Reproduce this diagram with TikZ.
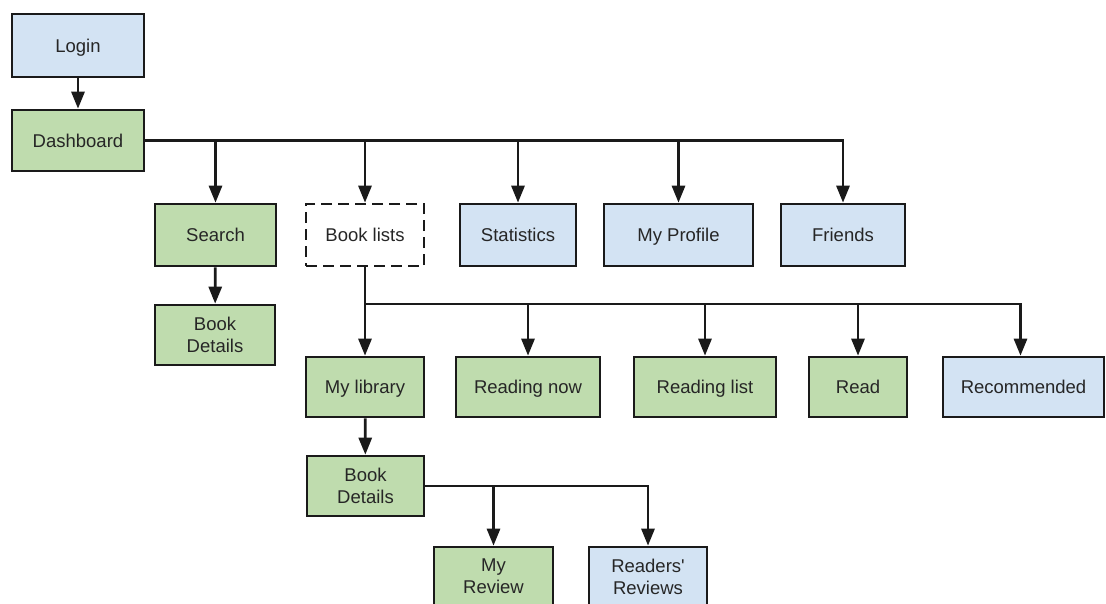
\documentclass[tikz,border=0pt]{standalone}
\usepackage{fontspec}
\setmainfont{Liberation Sans}
\usetikzlibrary{arrows.meta}
\definecolor{fillblue}{HTML}{D3E3F3}
\definecolor{fillgreen}{HTML}{BFDCAE}
\definecolor{linec}{HTML}{1A1A1A}
\definecolor{textc}{HTML}{262626}
\begin{document}
\begin{tikzpicture}[x=1pt,y=-1pt,
  box/.style={draw=linec, line width=2.6pt, align=center, inner sep=0pt,
    text=textc, font=\fontsize{18.5}{22}\selectfont},
  oneline/.style={text height=13.5pt, text depth=0.5pt},
  bluebox/.style={box, fill=fillblue},
  greenbox/.style={box, fill=fillgreen},
  groupbox/.style={box, fill=white, dash pattern=on 11pt off 6pt},
  link/.style={draw=linec, line width=2.8pt},
  arrow/.style={link, -{Triangle[length=17pt 0 0,width=13pt 0 0]}}]
\useasboundingbox (0,0) rectangle (1106,603);
\clip (0,0) rectangle (1106,603);

% top level
\node[bluebox,  oneline, minimum width=132pt, minimum height=63pt] (login) at (78,45.5) {Login};
\node[greenbox, oneline, minimum width=132pt, minimum height=61pt] (dash) at (78,140.5) {Dashboard};

% second level
\node[greenbox, oneline, minimum width=121pt, minimum height=62pt] (search)  at (215.5,235) {Search};
\node[groupbox, oneline, minimum width=118pt, minimum height=62pt] (blists)  at (365,235)   {Book lists};
\node[bluebox,  oneline, minimum width=116pt, minimum height=62pt] (stats)   at (518,235)   {Statistics};
\node[bluebox,  oneline, minimum width=149pt, minimum height=62pt] (profile) at (678.5,235) {My Profile};
\node[bluebox,  oneline, minimum width=124pt, minimum height=62pt] (friends) at (843,235)   {Friends};

% search branch
\node[greenbox, minimum width=120pt, minimum height=60pt] (bdone) at (215,335) {Book\\Details};

% book lists
\node[greenbox, oneline, minimum width=118pt, minimum height=60pt] (mylib) at (365,387)    {My library};
\node[greenbox, oneline, minimum width=144pt, minimum height=60pt] (rnow)  at (528,387)    {Reading now};
\node[greenbox, oneline, minimum width=142pt, minimum height=60pt] (rlist) at (705,387)    {Reading list};
\node[greenbox, oneline, minimum width=98pt,  minimum height=60pt] (read)  at (858,387)    {Read};
\node[bluebox,  oneline, minimum width=161pt, minimum height=60pt] (rec)   at (1023.5,387) {Recommended};

% library details
\node[greenbox, minimum width=117pt, minimum height=60pt] (bdtwo) at (365.5,486) {Book\\Details};
\node[greenbox, minimum width=119pt, minimum height=59pt] (myrev) at (493.5,576.5) {My\\Review};
\node[bluebox,  minimum width=118pt, minimum height=59pt] (rrev)  at (648,576.5)   {Readers\textquotesingle\\Reviews};

\coordinate (listbus) at (365,304);

% connectors
\draw[arrow] (login) -- (dash);
\draw[arrow] (dash.east) -- (friends.north |- dash.east) -- (friends.north);
\foreach \t in {search, blists, stats, profile}
  \draw[arrow] (\t.north |- dash.east) -- (\t.north);

\draw[arrow] (search) -- (bdone);

\draw[arrow] (blists) -- (mylib);
\draw[arrow] (listbus) -- ([xshift=-3pt]rec.north |- listbus) -- ([xshift=-3pt]rec.north);
\foreach \t in {rnow, rlist, read}
  \draw[arrow] (\t.north |- listbus) -- (\t.north);

\draw[arrow] (mylib) -- (bdtwo);
\draw[arrow] (bdtwo.east) -- (rrev.north |- bdtwo.east) -- (rrev.north);
\draw[arrow] (myrev.north |- bdtwo.east) -- (myrev.north);
\end{tikzpicture}
\end{document}
